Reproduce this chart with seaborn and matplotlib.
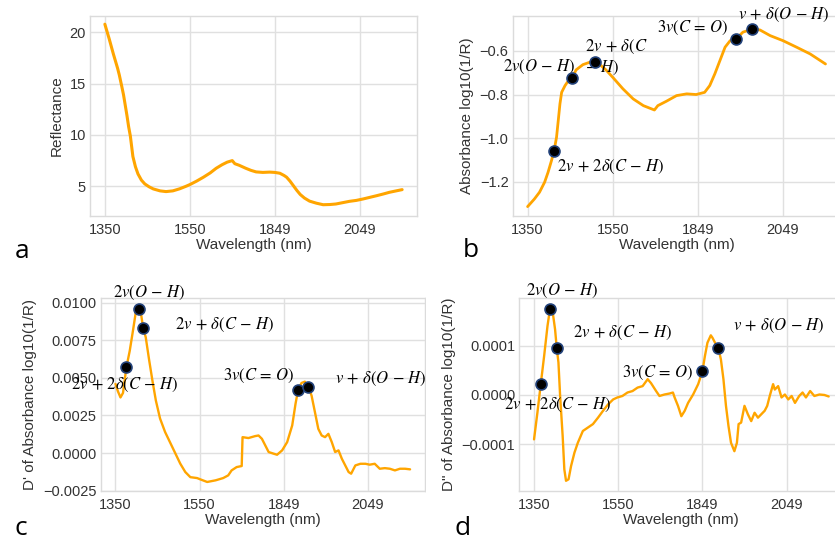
import numpy as np
import matplotlib
matplotlib.use("Agg")
import matplotlib.pyplot as plt
from matplotlib.patches import Rectangle
import seaborn as sns

# ---------------------------------------------------------------- data
# x positions are spectral sample indices; ticks carry the wavelength names
tick_idx = [0, 100, 200, 300]
tick_labels = ["1350", "1550", "1849", "2049"]

# (a) reflectance spectrum
refl_idx = [0, 5, 10, 15, 17, 20, 22, 24, 26, 28, 30, 33, 36, 39, 43, 47, 52,
            57, 65, 72, 80, 88, 95, 100, 108, 116, 124, 131, 138, 144, 150,
            153, 158, 166, 172, 178, 186, 194, 200, 206, 211, 214, 218, 222,
            226, 230, 235, 241, 249, 257, 265, 272, 280, 288, 296, 304, 312,
            320, 328, 335, 343, 350]
refl_val = [20.8, 19.4, 17.9, 16.5, 15.85, 14.7, 13.9, 12.9, 11.9, 10.8,
            9.9, 7.9, 6.9, 6.2, 5.6, 5.23, 4.95, 4.74, 4.55, 4.48, 4.55,
            4.75, 4.98, 5.16, 5.5, 5.88, 6.3, 6.75, 7.1, 7.35, 7.5, 7.2,
            7.05, 6.75, 6.55, 6.4, 6.35, 6.38, 6.35, 6.27, 6.05, 5.88, 5.5,
            5.05, 4.6, 4.2, 3.85, 3.55, 3.35, 3.2, 3.22, 3.27, 3.4, 3.53,
            3.62, 3.76, 3.92, 4.08, 4.25, 4.41, 4.55, 4.67]

# (b) absorbance log10(1/R)
abs_idx = [0, 8, 14, 20, 24, 28, 31, 34, 36, 38, 40, 44, 48, 52, 57, 65, 73,
           79, 85, 92, 100, 112, 124, 136, 149, 153, 163, 175, 187, 198, 208,
           214, 220, 226, 232, 238, 245, 253, 264, 273, 285, 300, 316, 332,
           350]
abs_val = [-1.314, -1.279, -1.248, -1.202, -1.157, -1.104, -1.060, -0.996,
           -0.920, -0.843, -0.790, -0.759, -0.736, -0.725, -0.687, -0.663,
           -0.652, -0.650, -0.663, -0.687, -0.721, -0.774, -0.820, -0.851,
           -0.871, -0.851, -0.831, -0.805, -0.797, -0.800, -0.790, -0.759,
           -0.705, -0.644, -0.583, -0.553, -0.545, -0.514, -0.500, -0.504,
           -0.530, -0.553, -0.583, -0.614, -0.660]
abs_marks = [31, 52, 79, 245, 264]

# (c) first derivative of absorbance
d1_idx = [0, 3, 6, 9, 13, 17, 21, 24, 28, 30, 33, 36, 40, 44, 48, 53, 59, 65,
          71, 77, 83, 89, 97, 101, 109, 119, 128, 134, 138, 144, 150, 151,
          158, 166, 170, 174, 178, 182, 188, 192, 198, 204, 210, 214, 217,
          221, 225, 229, 233, 237, 241, 245, 249, 253, 257, 261, 265, 269,
          273, 277, 280, 285, 291, 297, 302, 308, 314, 320, 326, 332, 338,
          344, 350]
d1_val = [0.0046, 0.0041, 0.0037, 0.0040, 0.0057, 0.0068, 0.0082, 0.0093,
          0.0096, 0.0094, 0.0083, 0.0077, 0.0062, 0.0048, 0.0035, 0.0023,
          0.0014, 0.0007, 0.0000, -0.0007, -0.00126, -0.0016, -0.00166,
          -0.00175, -0.00192, -0.00181, -0.00166, -0.00148, -0.00115,
          -0.00093, -0.00086, 0.00106, 0.0010, 0.00113, 0.00117, 0.00095,
          0.00051, 0.00007, -0.00004, -0.00011, 0.00018, 0.00073, 0.00184,
          0.0033, 0.0042, 0.00466, 0.00475, 0.00442, 0.00382, 0.00272,
          0.00161, 0.00117, 0.00106, 0.00128, 0.00073, 0.00007, 0.00018,
          -0.00038, -0.00082, -0.00126, -0.00137, -0.00082, -0.00071,
          -0.00071, -0.00077, -0.00071, -0.00104, -0.0010, -0.00104,
          -0.00115, -0.00104, -0.00104, -0.00108]
d1_marks = [13, 28, 33, 217, 229]

# (d) second derivative of absorbance, in units of 1e-4
d2_idx = [0, 4, 8, 12, 16, 19, 22, 25, 27, 29, 31, 34, 36, 38, 41, 44, 48,
          52, 58, 64, 70, 76, 82, 88, 94, 99, 105, 111, 117, 123, 129, 135,
          139, 145, 149, 155, 161, 165, 167, 171, 175, 179, 183, 189, 195,
          200, 203, 206, 210, 212, 215, 219, 222, 225, 228, 231, 234, 238,
          241, 243, 246, 250, 254, 258, 262, 266, 270, 274, 277, 280, 284,
          286, 290, 294, 298, 302, 306, 310, 315, 319, 323, 328, 333, 339,
          345, 350]
d2_val_e4 = [-0.90, -0.36, 0.22, 0.79, 1.40, 1.75, 1.70, 1.33, 0.95, 0.66,
             -0.02, -0.83, -1.51, -1.74, -1.71, -1.44, -1.17, -0.97, -0.73,
             -0.66, -0.59, -0.46, -0.32, -0.19, -0.09, -0.05, -0.02, 0.05,
             0.08, 0.15, 0.18, 0.32, 0.24, 0.08, -0.02, 0.01, 0.03, 0.05,
             -0.05, -0.22, -0.43, -0.32, -0.16, 0.01, 0.22, 0.48, 0.79, 1.06,
             1.21, 1.16, 1.06, 0.95, 0.72, 0.32, -0.22, -0.63, -0.97, -1.14,
             -0.97, -0.59, -0.56, -0.22, -0.39, -0.53, -0.36, -0.46, -0.39,
             -0.32, -0.22, -0.02, 0.22, 0.11, 0.18, -0.05, 0.01, -0.09,
             -0.02, -0.16, -0.02, 0.05, -0.05, 0.08, -0.02, 0.01, 0.00,
             -0.03]
d2_marks = [8, 19, 27, 200, 219]

# band assignments shown next to the marked points
band_labels = [r"$2v\,+\,2\delta(C\,-\,H)$", r"$2v(O\,-\,H)$",
               r"$2v\,+\,\delta(C\,-\,H)$", r"$3v(C\,=\,O)$",
               r"$v\,+\,\delta(O\,-\,H)$"]
band_labels_b = [band_labels[0], band_labels[1],
                 "$2v\\,+\\,\\delta(C$\n$-\\ H)$", band_labels[3],
                 band_labels[4]]

# ---------------------------------------------------------------- style
sns.set_theme(style="whitegrid")
plt.rcParams.update({
    "font.family": ["Liberation Sans", "DejaVu Sans"],
    "mathtext.fontset": "stix",
    "axes.edgecolor": "0.86",
    "grid.color": "0.88",
    "grid.linewidth": 1.0,
    "axes.linewidth": 1.0,
    "xtick.labelsize": 10.5,
    "ytick.labelsize": 10.5,
    "axes.labelsize": 11,
    "axes.labelcolor": "0.2",
    "xtick.color": "0.2",
    "ytick.color": "0.2",
    "xtick.major.size": 0,
    "ytick.major.size": 0,
    "xtick.major.pad": 5,
    "ytick.major.pad": 3,
})

W, H = 835, 542
fig = plt.figure(figsize=(W / 100, H / 100), dpi=100)


def add_panel(left, top, right, bottom, z=0):
    ax = fig.add_axes([left / W, 1 - bottom / H, (right - left) / W,
                       (bottom - top) / H])
    ax.set_zorder(z)
    return ax


def draw_panel(ax, idx, vals, lw, ylabel, ylim, yticks, yfmt):
    sns.lineplot(x=idx, y=vals, ax=ax, color="orange", lw=lw, sort=False)
    ax.set_xlim(-17.5, 367.5)
    ax.set_ylim(*ylim)
    ax.set_xticks(tick_idx)
    ax.set_xticklabels(tick_labels)
    ax.set_yticks(yticks)
    ax.set_yticklabels([yfmt.format(t).replace("-", "\u2212") for t in yticks])
    ax.set_xlabel("Wavelength (nm)", labelpad=1)
    ax.set_ylabel(ylabel, labelpad=4)


def mark_bands(ax, idx, vals, marks, labels, layout):
    lookup = dict(zip(idx, vals))
    ys = [lookup[m] for m in marks]
    sns.scatterplot(x=marks, y=ys, ax=ax, color="black", s=62,
                    edgecolor="#23427a", linewidth=1.2, zorder=5)
    for m, y, text, (dx, dy, ha) in zip(marks, ys, labels, layout):
        ax.annotate(text, xy=(m, y), xytext=(dx, dy),
                    textcoords="offset pixels", ha=ha, va="center",
                    fontsize=12, color="black", annotation_clip=False,
                    zorder=4)


# (a)
ax_a = add_panel(90, 16, 417, 216)
draw_panel(ax_a, refl_idx, refl_val, 2.2, "Reflectance", (2.1, 21.6),
           [5, 10, 15, 20], "{:d}")

# (b)
ax_b = add_panel(512.7, 16, 840.4, 216)
draw_panel(ax_b, abs_idx, abs_val, 2.0, "Absorbance log10(1/R)",
           (-1.357, -0.44), [-1.2, -1.0, -0.8, -0.6], "{:.1f}")
mark_bands(ax_b, abs_idx, abs_val, abs_marks, band_labels_b,
           [(3, -16, "left"), (3, 11, "right"), (-10, 4, "left"),
            (-8, 11, "right"), (-14, 14, "left")])

# (c)
ax_c = add_panel(100.7, 297.7, 424.8, 490.7, z=0)
draw_panel(ax_c, d1_idx, d1_val, 1.7, "D' of Absorbance log10(1/R)",
           (-0.00246, 0.01033),
           [-0.0025, 0.0, 0.0025, 0.005, 0.0075, 0.01], "{:.4f}")
mark_bands(ax_c, d1_idx, d1_val, d1_marks, band_labels,
           [(-1.5, -18, "center"), (10, 16, "center"), (32, 3, "left"),
            (-4, 14, "right"), (27, 8, "left")])

# white backing for the lower-right panel
fig.patches.append(Rectangle((426 / W, 0), 1 - 426 / W, 1 - 272 / H,
                             transform=fig.transFigure, facecolor="white",
                             edgecolor="none", zorder=0.5))

# (d)
d2_val = list(np.array(d2_val_e4) * 1e-4)
ax_d = add_panel(519.3, 297.7, 843.4, 490.7, z=1)
draw_panel(ax_d, d2_idx, d2_val, 1.7, 'D" of Absorbance log10(1/R)',
           (-1.941e-4, 1.973e-4), [-0.0001, 0.0, 0.0001], "{:.4f}")
mark_bands(ax_d, d2_idx, d2_val, d2_marks, band_labels,
           [(17, -21, "center"), (12, 18, "center"), (16, 15, "left"),
            (-9, -2, "right"), (15, 22, "left")])

# panel letters
for letter, x, base in [("a", 15, 258), ("b", 463, 257),
                        ("c", 14, 535), ("d", 455, 535)]:
    fig.text(x / W, 1 - base / H, letter, fontsize=19, family="Open Sans",
             va="baseline", ha="left", color="black")

fig.savefig("out.png", dpi=100, facecolor="white")
